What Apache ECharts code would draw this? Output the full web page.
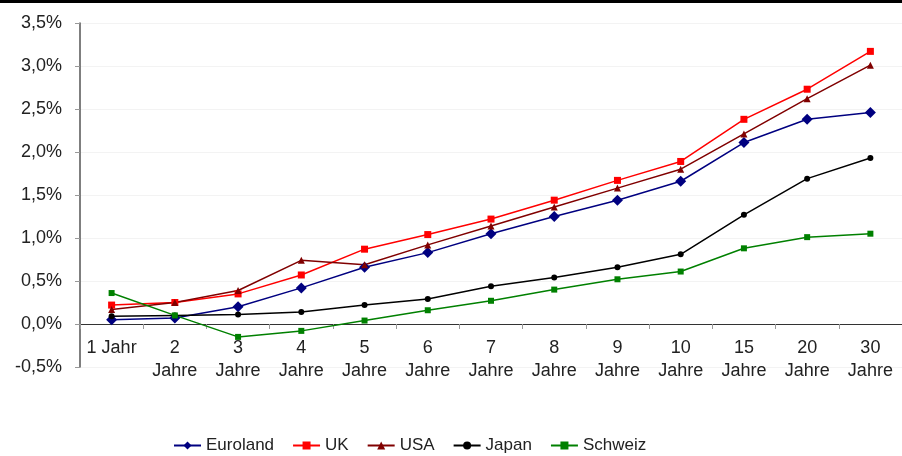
<!DOCTYPE html>
<html>
<head>
<meta charset="utf-8">
<script src="https://cdn.jsdelivr.net/npm/echarts@6/dist/echarts.min.js"></script>
<style>
  html, body { margin: 0; padding: 0; background: #fff; }
  #chart { width: 902px; height: 456px; }
</style>
</head>
<body>
<div id="chart"></div>
<script>
// Laufzeiten
var categories = ['1 Jahr', '2\nJahre', '3\nJahre', '4\nJahre', '5\nJahre', '6\nJahre', '7\nJahre',
    '8\nJahre', '9\nJahre', '10\nJahre', '15\nJahre', '20\nJahre', '30\nJahre'];

// Renditen in %
var euroland = [0.05, 0.07, 0.20, 0.42, 0.66, 0.83, 1.05, 1.25, 1.44, 1.66, 2.11, 2.38, 2.46];
var uk       = [0.22, 0.25, 0.35, 0.57, 0.87, 1.04, 1.22, 1.44, 1.67, 1.89, 2.38, 2.73, 3.17];
var usa      = [0.17, 0.25, 0.39, 0.74, 0.69, 0.92, 1.14, 1.36, 1.58, 1.80, 2.21, 2.62, 3.01];
var japan    = [0.09, 0.10, 0.11, 0.14, 0.22, 0.29, 0.44, 0.54, 0.66, 0.81, 1.27, 1.69, 1.93];
var schweiz  = [0.36, 0.10, -0.15, -0.08, 0.04, 0.16, 0.27, 0.40, 0.52, 0.61, 0.88, 1.01, 1.05];

var yTicks = { min: -0.5, max: 3.5, step: 0.5 };

var font = 'Liberation Sans, Arial, sans-serif';

function line(name, data, color, symbol, size) {
    return {
        name: name,
        type: 'line',
        data: data,
        symbol: symbol,
        symbolSize: size,
        showAllSymbol: true,
        lineStyle: { color: color, width: 1.5 },
        itemStyle: { color: color },
        emphasis: { disabled: true },
        animation: false
    };
}

var chart = echarts.init(document.getElementById('chart'));
chart.setOption({
    backgroundColor: '#fff',
    textStyle: { fontFamily: font },
    graphic: [{
        type: 'rect',
        left: 0, top: 0,
        shape: { width: 902, height: 3 },
        style: { fill: '#000' }
    }],
    grid: { left: 80, top: 23, bottom: 89, right: -5 },
    legend: {
        top: 432,
        left: 168,
        itemWidth: 27,
        itemHeight: 10,
        itemGap: 18,
        textStyle: { fontSize: 17, color: '#222', fontFamily: font },
        data: ['Euroland', 'UK', 'USA', 'Japan', 'Schweiz']
    },
    xAxis: {
        type: 'category',
        data: categories,
        axisLine: { onZero: true, lineStyle: { color: '#333', width: 1 } },
        axisTick: { show: true, length: 5, lineStyle: { color: '#999' } },
        axisLabel: {
            fontSize: 18,
            color: '#222',
            lineHeight: 23,
            margin: -30,
            interval: 0,
            fontFamily: font
        },
        splitLine: { show: false }
    },
    yAxis: {
        type: 'value',
        min: yTicks.min,
        max: yTicks.max,
        interval: yTicks.step,
        axisLine: { show: true, lineStyle: { color: '#555', width: 1.5 } },
        axisTick: { show: true, length: 5, lineStyle: { color: '#999' } },
        axisLabel: {
            fontSize: 18,
            color: '#222',
            margin: 18,
            fontFamily: font,
            formatter: function (v) { return v.toFixed(1).replace('.', ',') + '%'; }
        },
        splitLine: { show: true, lineStyle: { color: '#f3f3f3', width: 1 } }
    },
    series: [
        line('Euroland', euroland, '#000080', 'diamond', 11),
        line('UK', uk, '#ff0000', 'rect', 7),
        line('USA', usa, '#800000', 'triangle', 7),
        line('Japan', japan, '#000000', 'circle', 6),
        line('Schweiz', schweiz, '#008000', 'rect', 6)
    ]
});
</script>
</body>
</html>
